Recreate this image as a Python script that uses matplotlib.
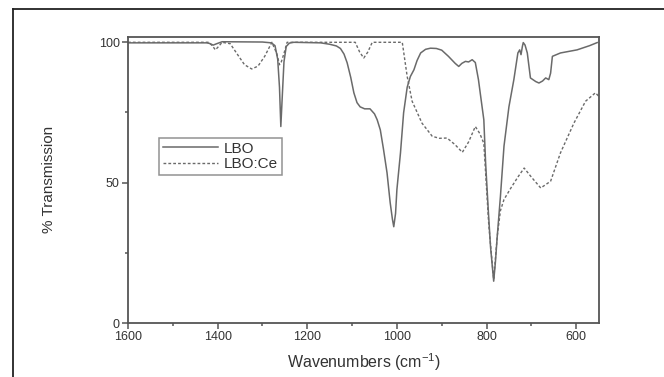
import matplotlib
matplotlib.use("Agg")
import matplotlib.pyplot as plt
from matplotlib.lines import Line2D

plt.rcParams["font.family"] = ["Liberation Sans", "DejaVu Sans"]
plt.rcParams["mathtext.default"] = "regular"

# LBO spectrum (solid line)
lbo_wn = [1600, 1425, 1418, 1410, 1402, 1390, 1300, 1280, 1272, 1266, 1262, 1259, 1256,
          1252, 1247, 1240, 1230, 1170, 1150, 1135, 1126, 1118, 1111, 1103, 1096, 1089,
          1082, 1072, 1060, 1050, 1044, 1037, 1030, 1022, 1015, 1010, 1007, 1003, 1000,
          992, 985, 977, 970, 962, 955, 947, 936, 925, 912, 900, 885, 870, 862, 855, 847,
          840, 832, 825, 818, 813, 806, 802, 796, 791, 784, 780, 776, 769, 761, 750, 739,
          730, 726, 723, 720, 718, 714, 709, 702, 690, 683, 675, 668, 661, 657, 653, 635,
          598, 570, 553]
lbo_t = [99.8, 99.8, 99.6, 99.0, 99.5, 100.2, 100.1, 99.8, 98.8, 94.0, 84.0, 70.0, 80.0,
         93.0, 98.5, 99.7, 100.0, 99.8, 99.3, 98.7, 97.8, 95.8, 92.7, 87.5, 82.0, 78.5,
         77.0, 76.3, 76.3, 74.5, 72.4, 68.8, 62.0, 53.5, 42.9, 37.0, 34.3, 39.0, 47.5,
         60.6, 74.9, 84.0, 87.8, 90.2, 93.5, 96.2, 97.5, 97.9, 97.8, 97.2, 95.0, 92.5,
         91.4, 92.5, 93.2, 93.0, 93.8, 92.8, 86.7, 80.7, 72.4, 57.0, 40.0, 27.0, 14.9, 22.0,
         31.0, 45.0, 63.0, 77.0, 86.7, 96.2, 97.3, 95.6, 98.5, 99.9, 99.0, 96.2, 87.3, 86.0,
         85.5, 86.2, 87.3, 86.7, 89.0, 95.0, 96.2, 97.3, 98.8, 99.9]

# LBO:Ce spectrum (dotted line)
ce_wn = [1600, 1420, 1412, 1405, 1398, 1390, 1372, 1355, 1340, 1324, 1310, 1295,
         1279, 1268, 1262, 1258, 1252, 1245, 1093, 1083, 1074, 1065, 1055, 988,
         977, 966, 944, 921, 905, 888, 870, 854, 840, 825, 815, 806, 795, 784,
         776, 769, 761, 746, 730, 716, 700, 679, 657, 635, 605, 579, 557, 549]
ce_t = [100.0, 100.0, 98.8, 97.3, 98.5, 100.0, 99.5, 95.5, 92.0, 90.5, 91.5, 95.0,
        100.0, 96.0, 92.0, 93.0, 96.0, 100.0, 100.0, 96.5, 94.4, 96.5, 100.0, 100.0,
        87.8, 79.0, 71.2, 66.5, 65.8, 65.9, 63.5, 60.8, 64.5, 70.0, 67.5, 64.0, 35.0,
        15.5, 31.0, 40.0, 44.0, 48.0, 52.0, 55.2, 52.0, 48.1, 50.5, 60.6, 71.2, 79.0,
        82.0, 80.7]

xticks = [1600, 1400, 1200, 1000, 800, 600]
yticks = [0, 50, 100]

line_color = "#6a6a6a"
text_color = "#333333"

fig = plt.figure(figsize=(6.64, 3.77), dpi=100)
ax = fig.add_axes([0.1928, 0.1432, 0.7093, 0.7595])

ax.plot(lbo_wn, lbo_t, color=line_color, lw=1.1, label="LBO")
ax.plot(ce_wn, ce_t, color=line_color, lw=1.0, linestyle=(0, (2, 1.5)), label="LBO:Ce")

ax.set_xlim(1600, 549)
ax.set_ylim(0, 102)
ax.set_xticks(xticks)
ax.set_xticks([1500, 1300, 1100, 900, 700], minor=True)
ax.set_yticks(yticks)
ax.set_yticks([25, 75], minor=True)

for s in ax.spines.values():
    s.set_color("#555555")
    s.set_linewidth(1.3)

ax.tick_params(axis="both", which="major", direction="out", length=4, width=1.1,
               colors="#555555", labelcolor=text_color, labelsize=9, pad=2)
ax.tick_params(axis="both", which="minor", direction="out", length=2.5, width=1.1,
               colors="#555555")

ax.set_xlabel("Wavenumbers (cm$^{-1}$)", fontsize=11.5, color=text_color, labelpad=6)
ax.set_ylabel("% Transmission", fontsize=11, color=text_color, labelpad=31)

leg = ax.legend(loc="upper left", bbox_to_anchor=(0.066, 0.647), fontsize=11,
                frameon=True, fancybox=False, borderpad=0.25, handlelength=3.6,
                handletextpad=0.4, labelspacing=0.1, borderaxespad=0)
leg.get_frame().set_edgecolor("#777777")
leg.get_frame().set_linewidth(1.1)
for t in leg.get_texts():
    t.set_color(text_color)

# outer frame of the picture
fx = 12.5 / 664
fy = 1 - 9 / 377
fig.add_artist(Line2D([fx, fx], [0, fy], transform=fig.transFigure, color="#222222", lw=1.3))
fig.add_artist(Line2D([fx, 1], [fy, fy], transform=fig.transFigure, color="#222222", lw=1.3))

fig.savefig("out.png", dpi=100)
